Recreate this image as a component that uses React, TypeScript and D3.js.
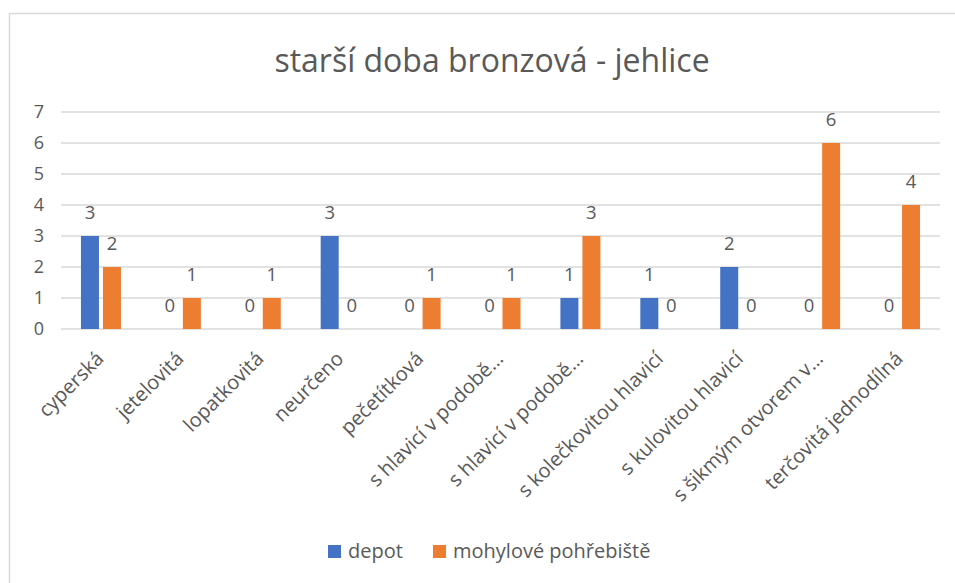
import React from "react";
import * as d3 from "d3";

const categories = [
  "cyperská",
  "jetelovitá",
  "lopatkovitá",
  "neurčeno",
  "pečetítková",
  "s hlavicí v podobě…",
  "s hlavicí v podobě…",
  "s kolečkovitou hlavicí",
  "s kulovitou hlavicí",
  "s šikmým otvorem v…",
  "terčovitá jednodílná",
];
const depot = [3, 0, 0, 3, 0, 0, 1, 1, 2, 0, 0];
const mohylove = [2, 1, 1, 0, 1, 1, 3, 0, 0, 6, 4];
const seriesNames = ["depot", "mohylové pohřebiště"];
const seriesColors = ["#4472C4", "#ED7D31"];
const yTicks = [0, 1, 2, 3, 4, 5, 6, 7];
const title = "starší doba bronzová - jehlice";

const W = 955;
const H = 583;
const FONT = "'Open Sans', 'Segoe UI', sans-serif";
const TEXT = "#595959";

export default function App() {
  const left = 61;
  const right = 940;
  const top = 112;
  const bottom = 329;
  const x = d3.scaleBand<number>().domain(categories.map((_, i) => i)).range([left, right]);
  const y = d3.scaleLinear().domain([0, 7]).range([bottom, top]);
  const barW = 18;
  const gap = 4;
  const series = [depot, mohylove];

  return (
    <svg width={W} height={H} style={{ position: "absolute", left: 0, top: 0, background: "#fff" }} fontFamily={FONT}>
      <rect x={9.5} y={13.5} width={1000} height={1000} fill="#fff" stroke="#d9d9d9" strokeWidth={1.5} />
      <text x={492} y={72} textAnchor="middle" fontSize={32} fill={TEXT}>{title}</text>
      {yTicks.map((t) => (
        <g key={t}>
          <line x1={left} x2={right} y1={y(t)} y2={y(t)} stroke="#d9d9d9" strokeWidth={1.3} />
          <text x={44} y={y(t) + 6} textAnchor="end" fontSize={18} fill={TEXT}>{t}</text>
        </g>
      ))}
      {series.map((vals, s) =>
        vals.map((v, i) => {
          const cx = (x(i) as number) + x.bandwidth() / 2;
          const bx = s === 0 ? cx - gap / 2 - barW : cx + gap / 2;
          return (
            <g key={`${s}-${i}`}>
              {v > 0 && <rect x={bx} y={y(v)} width={barW} height={y(0) - y(v)} fill={seriesColors[s]} />}
              <text x={bx + barW / 2} y={y(v) - 17} textAnchor="middle" fontSize={18.5} fill={TEXT}>{v}</text>
            </g>
          );
        })
      )}
      {categories.map((c, i) => {
        const cx = (x(i) as number) + x.bandwidth() / 2;
        return (
          <text key={i} transform={`translate(${cx + 4},${bottom + 31}) rotate(-45)`} textAnchor="end" fontSize={20} fill={TEXT}>
            {c}
          </text>
        );
      })}
      {seriesNames.map((n, i) => {
        const lx = i === 0 ? 328 : 433;
        return (
          <g key={n}>
            <rect x={lx} y={545} width={13} height={13} fill={seriesColors[i]} />
            <text x={lx + 20} y={558} fontSize={20} fill={TEXT}>{n}</text>
          </g>
        );
      })}
    </svg>
  );
}
